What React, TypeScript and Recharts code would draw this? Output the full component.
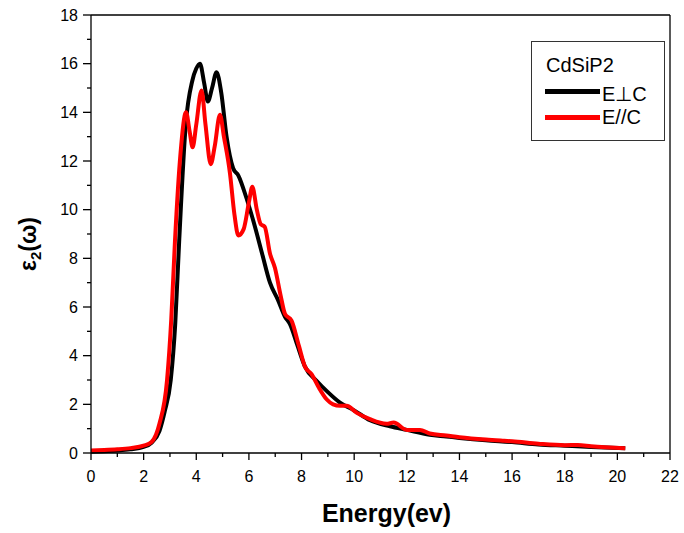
import React from 'react';
import { LineChart, Line, XAxis, YAxis, ReferenceLine } from 'recharts';

// E perpendicular to c axis
const perpEnergy = [0, 0.5, 1, 1.5, 2, 2.3, 2.6, 2.8, 3.03, 3.2, 3.35, 3.6, 3.85, 4.0, 4.14, 4.3, 4.44, 4.6, 4.77, 4.95, 5.15, 5.4, 5.6, 5.9, 6.23, 6.5, 6.8, 7.1, 7.37, 7.56, 7.85, 8.13, 8.57, 9.0, 9.46, 10.0, 10.6, 11.36, 12.0, 12.87, 13.5, 14, 15, 16, 17, 18, 19, 20.3];
const perpEps = [0.05, 0.07, 0.1, 0.15, 0.25, 0.42, 0.9, 1.7, 3.0, 5.3, 8.7, 13.5, 15.3, 15.8, 16.0, 15.2, 14.45, 15.0, 15.65, 14.8, 13.0, 11.7, 11.4, 10.5, 9.3, 8.2, 7.0, 6.3, 5.6, 5.3, 4.4, 3.55, 2.97, 2.5, 2.07, 1.75, 1.35, 1.1, 0.95, 0.75, 0.68, 0.62, 0.52, 0.45, 0.35, 0.3, 0.25, 0.2];

// E parallel to c axis
const paraEnergy = [0, 0.5, 1, 1.5, 2, 2.3, 2.6, 2.89, 3.05, 3.19, 3.4, 3.61, 3.75, 3.86, 4.0, 4.2, 4.35, 4.55, 4.7, 4.9, 5.05, 5.28, 5.45, 5.6, 5.8, 6.0, 6.13, 6.3, 6.45, 6.6, 6.8, 6.99, 7.2, 7.37, 7.62, 7.9, 8.13, 8.38, 8.65, 8.95, 9.2, 9.46, 9.71, 10.1, 10.6, 11.23, 11.5, 12.0, 12.5, 12.87, 13.5, 14, 15, 15.7, 16, 17, 18, 18.5, 19, 20.3];
const paraEps = [0.1, 0.12, 0.15, 0.2, 0.3, 0.45, 1.2, 3.0, 5.5, 8.7, 12.3, 14.0, 13.2, 12.56, 13.5, 14.9, 13.5, 11.87, 12.6, 13.9, 13.0, 11.5, 9.8, 8.94, 9.2, 10.3, 10.94, 10.0, 9.4, 9.3, 8.2, 7.6, 6.5, 5.72, 5.44, 4.4, 3.55, 3.24, 2.7, 2.21, 2.0, 1.94, 1.94, 1.65, 1.39, 1.2, 1.25, 0.95, 0.95, 0.8, 0.72, 0.65, 0.55, 0.5, 0.48, 0.38, 0.32, 0.33, 0.28, 0.2];

const xTicks = Array.from({ length: 23 }, (_, i) => i);
const yTicks = Array.from({ length: 19 }, (_, i) => i);

const legendTitle = 'CdSiP2';
const perpName = 'E\u22a5C';
const paraName = 'E//C';

const perpData = perpEnergy.map((e, i) => ({ e, v: perpEps[i] }));
const paraData = paraEnergy.map((e, i) => ({ e, v: paraEps[i] }));

const FONT = '"Liberation Sans", Arial, sans-serif';

const XTick = ({ x, y, payload }: any) => {
  const major = payload.value % 2 === 0;
  return (
    <g>
      <line x1={x} x2={x} y1={y} y2={y + (major ? 7 : 4)} stroke="#000" strokeWidth={1.3} />
      {major && (
        <text x={x} y={y + 29} textAnchor="middle" fontSize={16} fontFamily={FONT} fill="#000">
          {payload.value}
        </text>
      )}
    </g>
  );
};

const YTick = ({ x, y, payload }: any) => {
  const major = payload.value % 2 === 0;
  return (
    <g>
      <line x1={x} x2={x - (major ? 8 : 4)} y1={y} y2={y} stroke="#000" strokeWidth={1.3} />
      {major && (
        <text x={x - 13} y={y + 5.7} textAnchor="end" fontSize={16} fontFamily={FONT} fill="#000">
          {payload.value}
        </text>
      )}
    </g>
  );
};

// legend drawn as an overlay so it does not take space from the plot
const LegendBox = () => (
  <div
    style={{
      position: 'absolute',
      left: 531,
      top: 41,
      width: 132,
      height: 98,
      border: '1px solid #333',
      background: '#fff',
      fontFamily: FONT,
      fontSize: 20,
      color: '#000',
      lineHeight: '20px',
    }}
  >
    <div style={{ position: 'absolute', left: 14, top: 13 }}>{legendTitle}</div>
    <div style={{ position: 'absolute', left: 13, top: 47, width: 55, height: 5, background: '#000' }} />
    <div style={{ position: 'absolute', left: 70, top: 42 }}>{perpName}</div>
    <div style={{ position: 'absolute', left: 13, top: 73, width: 55, height: 5, background: '#ff0000' }} />
    <div style={{ position: 'absolute', left: 70, top: 65 }}>{paraName}</div>
  </div>
);

export default function App() {
  return (
    <div style={{ position: 'absolute', left: 0, top: 0, width: 684, height: 533, background: '#fff' }}>
      <LineChart width={684} height={533} margin={{ top: 15, right: 14, left: 0, bottom: 0 }}>
        <XAxis
          dataKey="e"
          type="number"
          domain={[0, 22]}
          ticks={xTicks}
          interval={0}
          allowDuplicatedCategory={false}
          height={80}
          tickSize={0}
          tickMargin={0}
          tick={<XTick />}
          stroke="#000"
          strokeWidth={1.3}
          label={{
            content: (p: any) => {
              const vb = p.viewBox;
              return (
                <text x={vb.x + vb.width / 2 + 6} y={vb.y + 69} textAnchor="middle" fontSize={25} fontWeight="bold" fontFamily={FONT} fill="#000">
                  Energy(ev)
                </text>
              );
            },
          }}
        />
        <YAxis
          type="number"
          domain={[0, 18]}
          ticks={yTicks}
          interval={0}
          width={91}
          tickSize={0}
          tickMargin={0}
          tick={<YTick />}
          stroke="#000"
          strokeWidth={1.3}
          label={{
            content: (p: any) => {
              const vb = p.viewBox;
              const cx = 30;
              const cy = vb.y + vb.height / 2 + 10;
              return (
                <text x={cx} y={cy} transform={`rotate(-90 ${cx} ${cy})`} textAnchor="middle" dominantBaseline="middle" fontSize={23} fontWeight="bold" fontFamily={FONT} fill="#000">
                  {'\u03b5'}
                  <tspan fontSize={15} dy={7}>2</tspan>
                  <tspan dy={-7}>({'\u03c9'})</tspan>
                </text>
              );
            },
          }}
        />
        <ReferenceLine y={18} stroke="#000" strokeWidth={1.3} />
        <ReferenceLine x={22} stroke="#000" strokeWidth={1.3} />
        <Line data={perpData} dataKey="v" name={perpName} type="monotone" stroke="#000" strokeWidth={4} dot={false} isAnimationActive={false} />
        <Line data={paraData} dataKey="v" name={paraName} type="monotone" stroke="#ff0000" strokeWidth={4} dot={false} isAnimationActive={false} />
      </LineChart>
      <LegendBox />
    </div>
  );
}
